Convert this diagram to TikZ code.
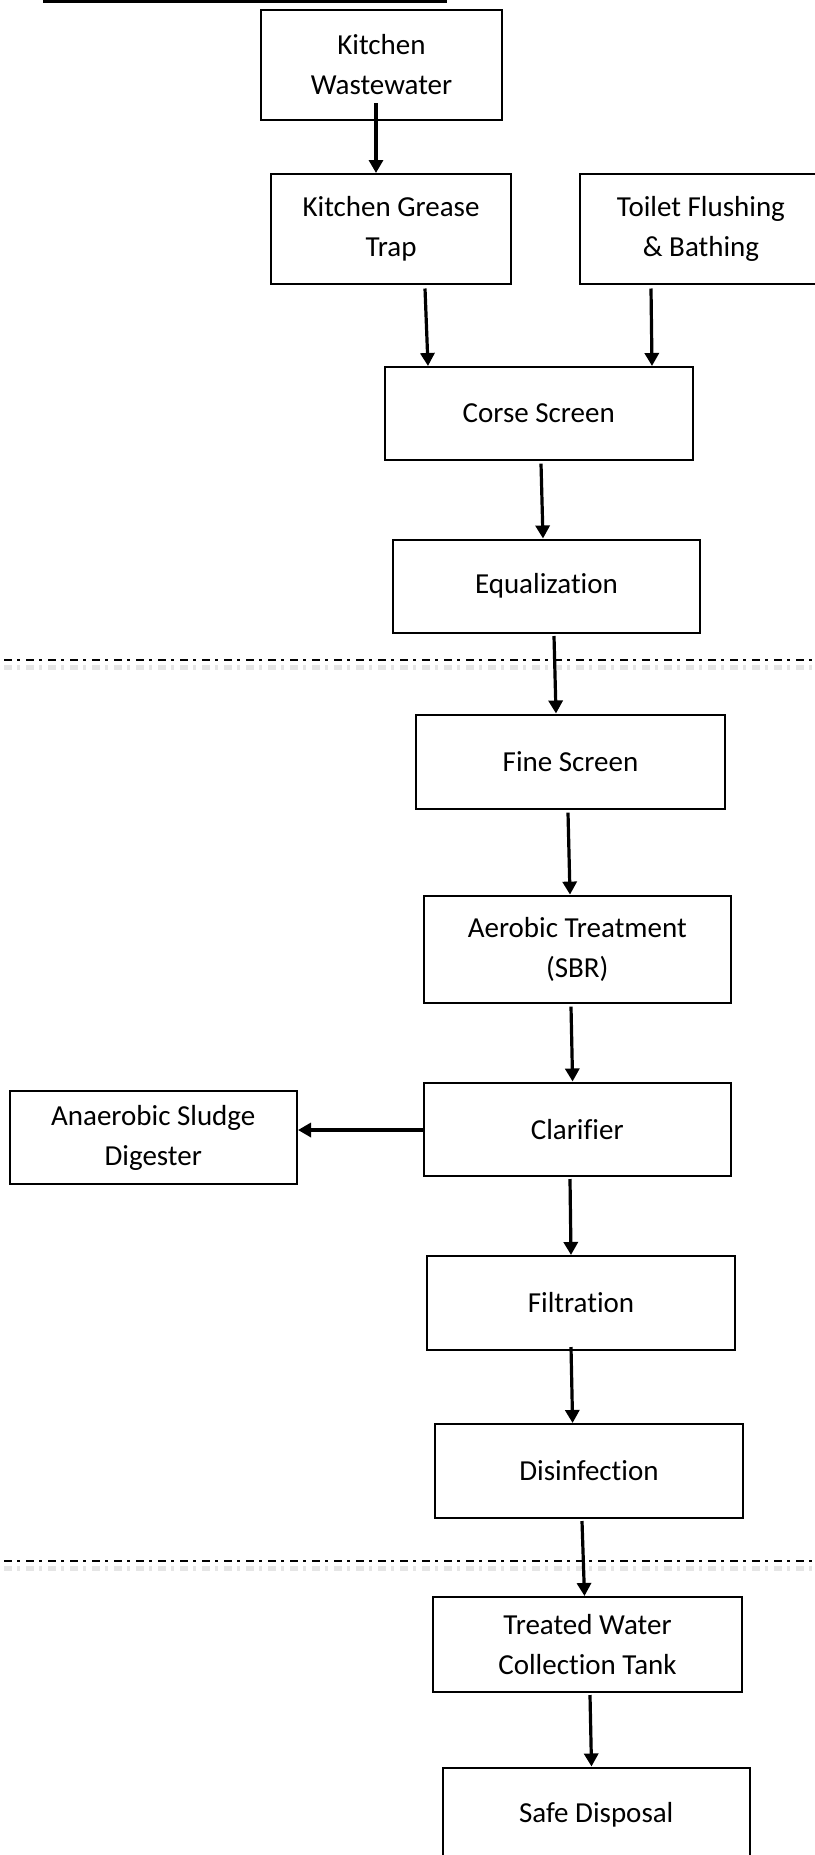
\documentclass[tikz,border=0pt]{standalone}
\usepackage{fontspec}
\setmainfont{Carlito}[Ligatures={NoCommon,NoContextual}]
\usetikzlibrary{arrows.meta,calc}
\begin{document}
\begin{tikzpicture}[x=1pt,y=-1pt,
  box/.style={draw=black,line width=2pt,rectangle,inner sep=0pt,align=center,
    font=\fontsize{29}{40}\selectfont},
  arr/.style={line width=3.2pt,-{Triangle[width=14pt,length=13pt]}},
  dashdot/.style={line width=2pt,dash pattern=on 8pt off 5pt on 2.5pt off 6.5pt},
  shadowline/.style={line width=5pt,draw=black!10,dash pattern=on 8pt off 5pt on 2.5pt off 6.5pt}]
\useasboundingbox (0,0) rectangle (814,1855);
\fill[white] (0,0) rectangle (814,1855);
% top underline
\draw[line width=3pt] (43,1) -- (447,1);
% separator lines
\draw[shadowline] (4,667) -- (814,667);
\draw[dashdot] (4,660) -- (814,660);
\draw[shadowline] (4,1568) -- (814,1568);
\draw[dashdot] (4,1561) -- (814,1561);
% nodes
\node[box,minimum width=241,minimum height=110] (kw) at (381.5,64.5) {Kitchen\\Wastewater};
\node[box,minimum width=240,minimum height=110] (gt) at (391,229) {Kitchen Grease\\Trap};
\node[box,minimum width=242,minimum height=110] (tf) at (701,229) {Toilet Flushing\\\& Bathing};
\node[box,minimum width=308.5,minimum height=93] (cs) at (538.75,413.5) {Corse Screen};
\node[box,minimum width=307,minimum height=93.5] (eq) at (546.5,586.25) {Equalization};
\node[box,minimum width=309,minimum height=94.5] (fs) at (570.5,761.75) {Fine Screen};
\node[box,minimum width=307.5,minimum height=107.4] (at) at (577.25,949.3) {Aerobic Treatment\\(SBR)};
\node[box,minimum width=307.5,minimum height=93.5] (cl) at (577.25,1129.25) {Clarifier};
\node[box,minimum width=287.5,minimum height=93] (an) at (153.25,1137.5) {Anaerobic Sludge\\Digester};
\node[box,minimum width=308,minimum height=94] (fi) at (581,1303) {Filtration};
\node[box,minimum width=308,minimum height=94] (di) at (589,1471) {Disinfection};
\node[box,minimum width=309,minimum height=95] (tw) at (587.5,1644.5) {Treated Water\\Collection Tank};
\node[box,minimum width=307.5,minimum height=93.5] (sd) at (596.25,1814.25) {Safe Disposal};
% connectors
\draw[arr] ([shift={(-5.5,-17.5)}]kw.south) -- ([shift={(-15,0)}]gt.north);
\draw[arr] ([shift={(34,3.5)}]gt.south) -- ([shift={(-110.75,0)}]cs.north);
\draw[arr] ([shift={(-50,3.5)}]tf.south) -- ([shift={(113.25,0)}]cs.north);
\draw[arr] ([shift={(2.25,2.6)}]cs.south) -- ([shift={(-3.5,0)}]eq.north);
\draw[arr] ([shift={(7.5,2)}]eq.south) -- ([shift={(-14.5,0)}]fs.north);
\draw[arr] ([shift={(-2.5,2.6)}]fs.south) -- ([shift={(-7.25,0)}]at.north);
\draw[arr] ([shift={(-6.25,2.6)}]at.south) -- ([shift={(-4.65,0)}]cl.north);
\draw[arr] ([shift={(0,0.75)}]cl.west) -- ([shift={(0,-7.5)}]an.east);
\draw[arr] ([shift={(-7.25,2)}]cl.south) -- ([shift={(-10,0)}]fi.north);
\draw[arr] ([shift={(-10,-4)}]fi.south) -- ([shift={(-16.4,0)}]di.north);
\draw[arr] ([shift={(-7,2)}]di.south) -- ([shift={(-3,0)}]tw.north);
\draw[arr] ([shift={(2.5,2)}]tw.south) -- ([shift={(-4.75,0)}]sd.north);
\end{tikzpicture}
\end{document}
